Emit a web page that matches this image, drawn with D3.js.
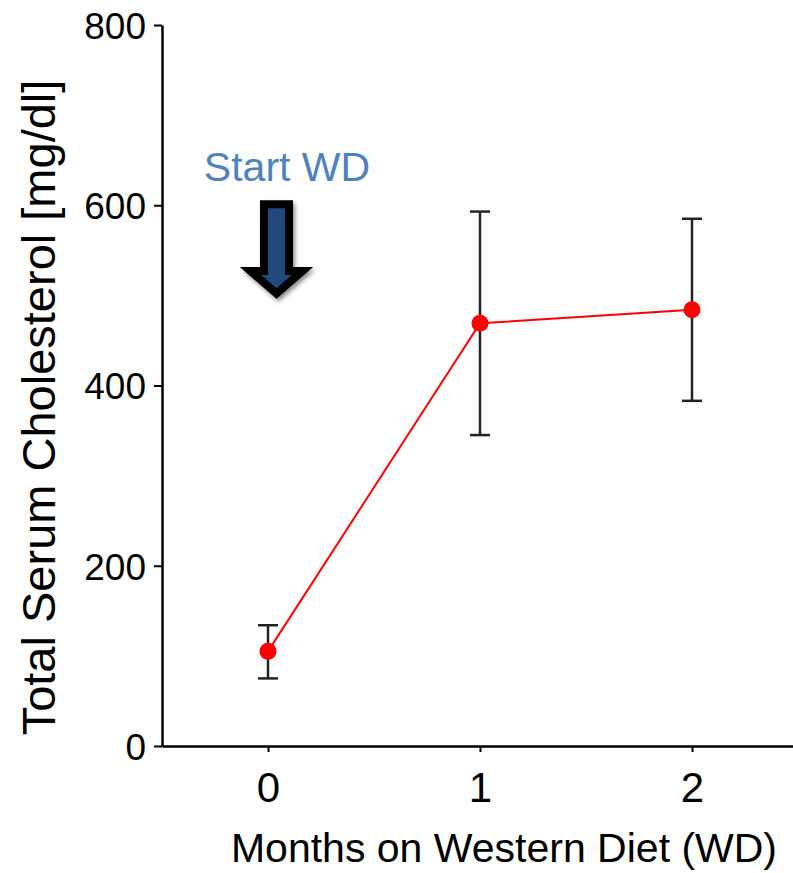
<!DOCTYPE html>
<html>
<head>
<meta charset="utf-8">
<script src="https://cdn.jsdelivr.net/npm/d3@7"></script>
<style>
  html, body { margin: 0; padding: 0; background: #fff; }
  svg { display: block; font-family: "Liberation Sans", Arial, Helvetica, sans-serif; }
</style>
</head>
<body>
<div id="chart"></div>
<script>
// values
const months = [0, 1, 2];
const cholMean = [105, 469, 484];
const cholUpper = [134, 593, 585];
const cholLower = [75, 345, 383];
const yTicks = [0, 200, 400, 600, 800];
const xTicks = [0, 1, 2];

const width = 793;
const height = 873;

const svg = d3.select('#chart')
  .append('svg')
  .attr('width', width)
  .attr('height', height);

const x = d3.scaleLinear().domain([-0.5, 2.5]).range([162, 798]);
const y = d3.scaleLinear().domain([0, 800]).range([746, 25]);

// axes
const yAxis = svg.append('g')
  .attr('transform', `translate(${x(-0.5)},0)`)
  .call(d3.axisLeft(y).tickValues(yTicks).tickSize(8).tickPadding(8).tickSizeOuter(0));
yAxis.select('.domain').attr('stroke', '#000').attr('stroke-width', 2.5);
yAxis.selectAll('.tick line').attr('stroke', '#000').attr('stroke-width', 2);
yAxis.selectAll('.tick text')
  .attr('font-size', 37)
  .attr('font-family', '"Liberation Sans", Arial, sans-serif')
  .attr('fill', '#000')
  .attr('dy', '0.36em');

const xAxis = svg.append('g')
  .attr('transform', `translate(0,${y(0)})`)
  .call(d3.axisBottom(x).tickValues(xTicks).tickSize(6).tickPadding(20).tickSizeOuter(0)
    .tickFormat(d3.format('d')));
xAxis.select('.domain').attr('stroke', '#000').attr('stroke-width', 2.5);
xAxis.selectAll('.tick line').attr('stroke', '#000').attr('stroke-width', 2);
xAxis.selectAll('.tick text')
  .attr('font-size', 42)
  .attr('font-family', '"Liberation Sans", Arial, sans-serif')
  .attr('fill', '#000');

// axis titles
svg.append('text')
  .attr('transform', `translate(55,${(y(0) + y(800)) / 2 + 22}) rotate(-90)`)
  .attr('text-anchor', 'middle')
  .attr('font-size', 47)
  .attr('fill', '#000')
  .text('Total Serum Cholesterol [mg/dl]');

svg.append('text')
  .attr('x', 504)
  .attr('y', 862)
  .attr('text-anchor', 'middle')
  .attr('font-size', 41)
  .attr('fill', '#000')
  .text('Months on Western Diet (WD)');

const pts = months.map((m, i) => ({
  m, mean: cholMean[i], hi: cholUpper[i], lo: cholLower[i],
}));

// error bars
const capW = 10;
const err = svg.append('g').attr('stroke', '#222').attr('stroke-width', 2.5);
err.selectAll('line.v').data(pts).enter().append('line')
  .attr('x1', (d) => x(d.m)).attr('x2', (d) => x(d.m))
  .attr('y1', (d) => y(d.hi)).attr('y2', (d) => y(d.lo));
err.selectAll('line.t').data(pts).enter().append('line')
  .attr('x1', (d) => x(d.m) - capW).attr('x2', (d) => x(d.m) + capW)
  .attr('y1', (d) => y(d.hi)).attr('y2', (d) => y(d.hi));
err.selectAll('line.b').data(pts).enter().append('line')
  .attr('x1', (d) => x(d.m) - capW).attr('x2', (d) => x(d.m) + capW)
  .attr('y1', (d) => y(d.lo)).attr('y2', (d) => y(d.lo));

// mean line + markers
const line = d3.line().x((d) => x(d.m)).y((d) => y(d.mean));
svg.append('path')
  .datum(pts)
  .attr('d', line)
  .attr('fill', 'none')
  .attr('stroke', '#ff0000')
  .attr('stroke-width', 2);

svg.selectAll('circle.pt').data(pts).enter().append('circle')
  .attr('cx', (d) => x(d.m))
  .attr('cy', (d) => y(d.mean))
  .attr('r', 8.5)
  .attr('fill', '#ff0000');

// "Start WD" annotation
const defs = svg.append('defs');
const f = defs.append('filter').attr('id', 'shadow')
  .attr('x', '-30%').attr('y', '-30%').attr('width', '160%').attr('height', '160%');
f.append('feDropShadow')
  .attr('dx', 2).attr('dy', 3).attr('stdDeviation', 2)
  .attr('flood-color', '#000').attr('flood-opacity', 0.45);

const ax = x(0) + 8.5;
const aTop = y(600) - 1;
const aHead = y(527);
const aTip = y(502);
const shaftHalf = 12.5;
const headHalf = 26;
const arrowPath = d3.path();
arrowPath.moveTo(ax - shaftHalf, aTop);
arrowPath.lineTo(ax + shaftHalf, aTop);
arrowPath.lineTo(ax + shaftHalf, aHead);
arrowPath.lineTo(ax + headHalf, aHead);
arrowPath.lineTo(ax, aTip);
arrowPath.lineTo(ax - headHalf, aHead);
arrowPath.lineTo(ax - shaftHalf, aHead);
arrowPath.closePath();

svg.append('path')
  .attr('d', arrowPath.toString())
  .attr('fill', '#244a7c')
  .attr('stroke', '#000')
  .attr('stroke-width', 8)
  .attr('stroke-linejoin', 'miter')
  .attr('filter', 'url(#shadow)');

svg.append('text')
  .attr('x', x(0) + 19)
  .attr('y', y(627))
  .attr('text-anchor', 'middle')
  .attr('font-size', 41)
  .attr('fill', '#4f81bd')
  .text('Start WD');
</script>
</body>
</html>
